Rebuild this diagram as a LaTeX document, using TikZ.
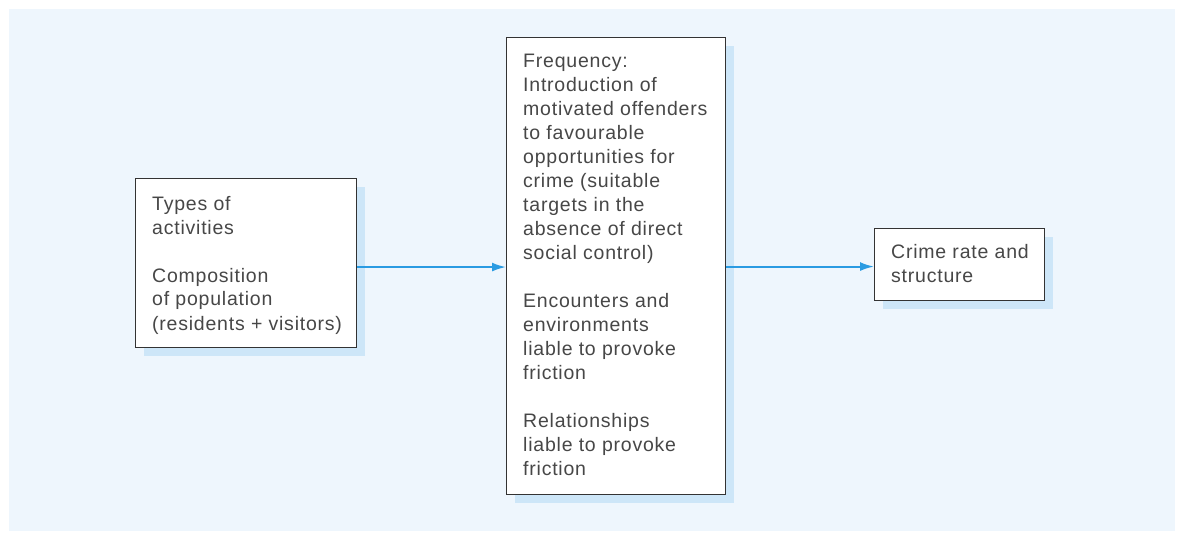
\documentclass[tikz,border=0pt]{standalone}
\usepackage{fontspec}
\setmainfont{Liberation Sans}[LetterSpace=4]
\usetikzlibrary{arrows.meta,shadows}
\definecolor{panel}{HTML}{EEF6FD}
\definecolor{shade}{HTML}{CDE6F8}
\definecolor{arrowblue}{HTML}{2A9BE2}
\definecolor{ink}{HTML}{474747}
\definecolor{frame}{HTML}{333333}
\begin{document}
\begin{tikzpicture}[x=1pt,y=-1pt,
  boxnode/.style={draw=frame, line width=1.1pt, fill=white, inner sep=0pt, anchor=north west,
    drop shadow={shadow xshift=8pt, shadow yshift=-8pt, fill=shade, opacity=1}},
  txt/.style={anchor=base west, inner sep=0pt, text=ink, font=\fontsize{19.5}{24}\selectfont},
  arr/.style={-{Latex[length=14pt,width=9pt]}, draw=arrowblue, line width=1.9pt}]
\useasboundingbox (0,0) rectangle (1179,535);
\fill[panel] (9,9) rectangle (1175,531);
\node[boxnode, minimum width=221pt, minimum height=169pt] (a) at (135,178) {};
\node[boxnode, minimum width=219pt, minimum height=457pt] (b) at (506,37) {};
\node[boxnode, minimum width=170pt, minimum height=72pt] (c) at (874,228) {};
\node[txt] (ta) at (152,210) {\parbox[t]{210pt}{Types of\\activities\\[24pt]Composition\\of population\\(residents + visitors)}};
\node[txt] (tb) at (523,68) {\parbox[t]{200pt}{Frequency:\\Introduction of\\motivated offenders\\to favourable\\opportunities for\\crime (suitable\\targets in the\\absence of direct\\social control)\\[24pt]Encounters and\\environments\\liable to provoke\\friction\\[24pt]Relationships\\liable to provoke\\friction}};
\node[txt] (tc) at (891,258) {\parbox[t]{150pt}{Crime rate and\\structure}};
\draw[arr] ([yshift=-4pt]a.east) -- ([yshift=-4pt]a.east -| b.west);
\draw[arr] ([yshift=-2pt]c.west -| b.east) -- ([yshift=-2pt]c.west);
\end{tikzpicture}
\end{document}
